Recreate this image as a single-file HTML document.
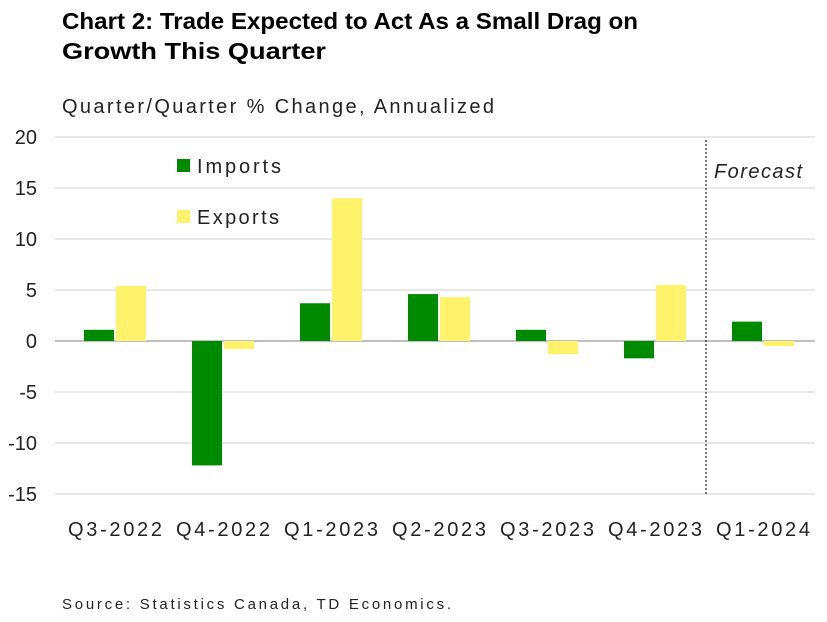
<!DOCTYPE html>
<html><head><meta charset="utf-8"><style>
body{margin:0;background:#fff;font-family:"Liberation Sans",Arial,sans-serif;}
svg text{font-family:"Liberation Sans",Arial,sans-serif;}
</style></head><body>
<svg id="chart" width="827" height="617" viewBox="0 0 827 617" xmlns="http://www.w3.org/2000/svg">
<text x="62" y="29" font-size="23" font-weight="bold" fill="#000" textLength="576" lengthAdjust="spacingAndGlyphs">Chart 2: Trade Expected to Act As a Small Drag on</text>
<text x="62" y="59" font-size="23" font-weight="bold" fill="#000" textLength="264" lengthAdjust="spacingAndGlyphs">Growth This Quarter</text>
<text x="62" y="113" font-size="20" fill="#222" textLength="432" lengthAdjust="spacing">Quarter/Quarter % Change, Annualized</text>
<g id="grid"></g><g id="bars"></g><g id="labels"></g>
<line x1="706" y1="140" x2="706" y2="494" stroke="#333" stroke-width="1.3" stroke-dasharray="2,2"/>
<text x="714" y="178" font-size="20" font-style="italic" fill="#222" textLength="88" lengthAdjust="spacing">Forecast</text>
<rect x="177" y="159" width="13" height="13" fill="#008a00"/>
<text x="197" y="173" font-size="20" fill="#222" textLength="84" lengthAdjust="spacing">Imports</text>
<rect x="177" y="210" width="13" height="13" fill="#fff36b"/>
<text x="197" y="224" font-size="20" fill="#222" textLength="82" lengthAdjust="spacing">Exports</text>
<text x="62" y="609" font-size="15" fill="#222" textLength="389" lengthAdjust="spacing">Source: Statistics Canada, TD Economics.</text>
</svg>
<script>
const categories=["Q3-2022","Q4-2022","Q1-2023","Q2-2023","Q3-2023","Q4-2023","Q1-2024"];
const imports=[1.1,-12.2,3.7,4.6,1.1,-1.7,1.9];
const exportsVals=[5.4,-0.8,14.0,4.3,-1.3,5.5,-0.5];
const yTicks=[20,15,10,5,0,-5,-10,-15];
const NS="http://www.w3.org/2000/svg";
const plotL=61,plotR=817,yMin=-15,yMax=20,pxTop=137,pxBot=494;
const y=v=>pxBot-(v-yMin)/(yMax-yMin)*(pxBot-pxTop);
const step=(plotR-plotL)/categories.length;
const xc=i=>plotL+step*(i+0.5);
function mk(t,a,p){const e=document.createElementNS(NS,t);for(const k in a)e.setAttribute(k,a[k]);p.appendChild(e);return e;}
const grid=document.getElementById('grid'),bars=document.getElementById('bars'),labels=document.getElementById('labels');
yTicks.forEach(t=>{
 const l=mk('line',{x1:55,x2:815,y1:y(t),y2:y(t),stroke:t===0?'#999':'#d9d9d9','stroke-width':1.3},grid);
 
 
 const tx=mk('text',{x:37,y:y(t)+7,'font-size':20,'text-anchor':'end',fill:'#222'},labels);
 tx.textContent=t;
 
 
});
const bw=30;
categories.forEach((c,i)=>{
 const cx=xc(i);
 const v1=imports[i],v2=exportsVals[i];
 const b1=mk('rect',{x:cx-bw-1,y:Math.min(y(v1),y(0)),width:bw,height:Math.abs(y(v1)-y(0)),fill:'#008a00'},bars);
 
 
 const b2=mk('rect',{x:cx+1,y:Math.min(y(v2),y(0)),width:bw,height:Math.abs(y(v2)-y(0)),fill:'#fff36b'},bars);
 
 
 const tx=mk('text',{x:cx-47,y:536,'font-size':20,fill:'#222',textLength:94,lengthAdjust:'spacing'},labels);
 tx.textContent=c;
 
 
});
</script>
</body></html>
